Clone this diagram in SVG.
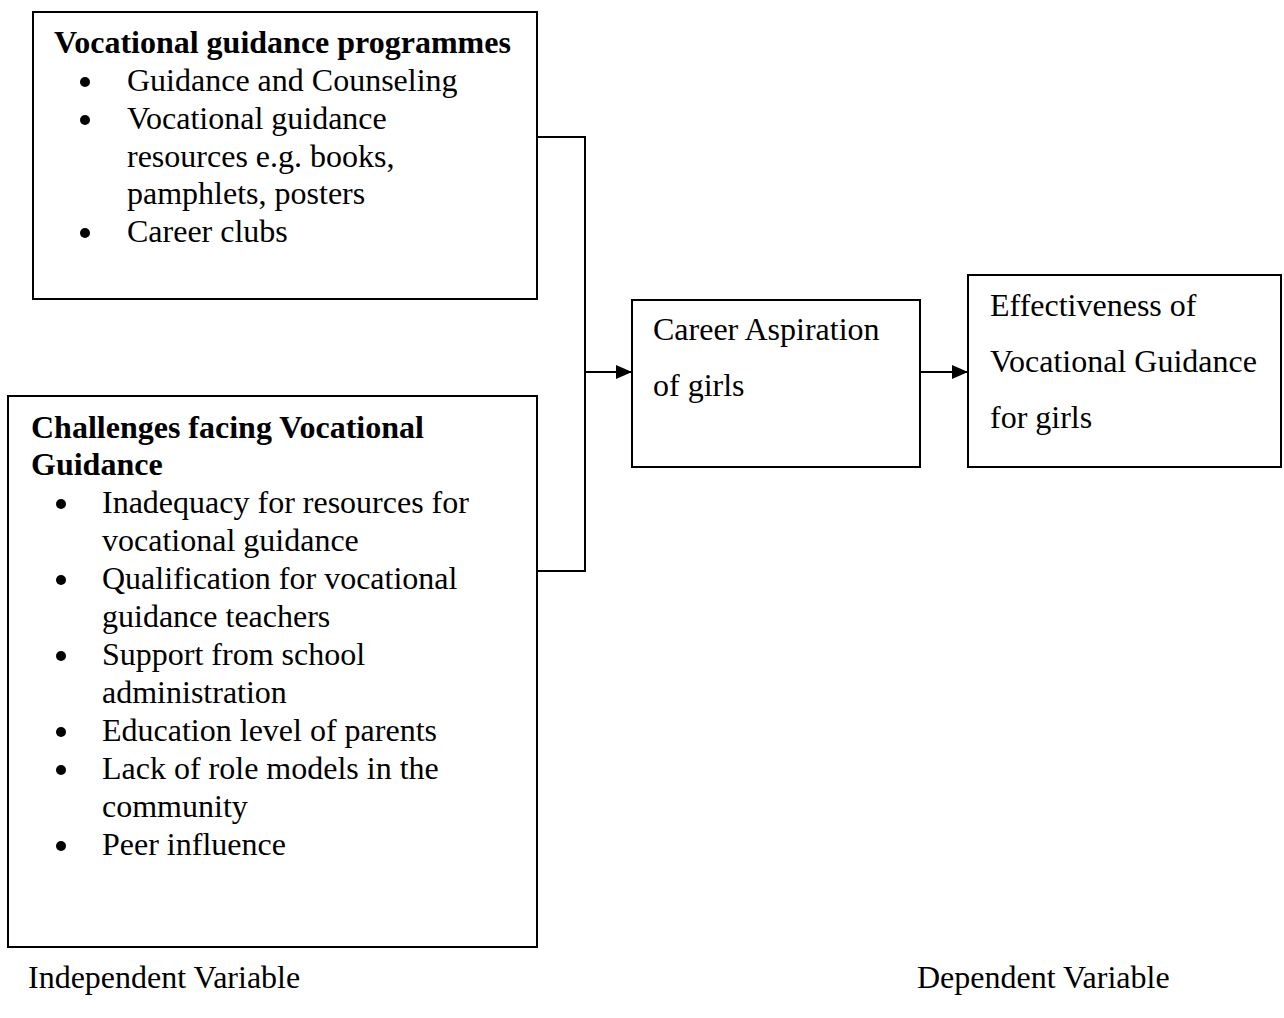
<svg xmlns="http://www.w3.org/2000/svg" width="1284" height="1018" viewBox="0 0 1284 1018">
<style>
.box{fill:#fff;stroke:#000;stroke-width:2}
.t{font-family:"Liberation Serif","Times New Roman",serif;font-size:32px;fill:#000}
.b{font-weight:bold}
.ln{fill:none;stroke:#000;stroke-width:2}
.dot{fill:#000}
</style>
<defs>
<marker id="ah" markerUnits="userSpaceOnUse" markerWidth="16" markerHeight="14" refX="16" refY="7" orient="auto">
<path d="M0,0 L16,7 L0,14 z" fill="#000"/>
</marker>
</defs>
<rect width="1284" height="1018" fill="#fff"/>
<g id="programmes">
<rect class="box" x="33" y="12" width="504" height="287"/>
<text class="t b" x="54" y="53">Vocational guidance programmes</text>
<circle class="dot" cx="85" cy="82" r="5"/>
<text class="t" x="127" y="91">Guidance and Counseling</text>
<circle class="dot" cx="85" cy="120" r="5"/>
<text class="t" x="127" y="129">Vocational guidance</text>
<text class="t" x="127" y="167">resources e.g. books,</text>
<text class="t" x="127" y="204">pamphlets, posters</text>
<circle class="dot" cx="85" cy="233" r="5"/>
<text class="t" x="127" y="242">Career clubs</text>
</g>
<g id="challenges">
<rect class="box" x="8" y="396" width="529" height="551"/>
<text class="t b" x="31" y="438">Challenges facing Vocational</text>
<text class="t b" x="31" y="475">Guidance</text>
<circle class="dot" cx="61" cy="504" r="5"/>
<text class="t" x="102" y="513">Inadequacy for resources for</text>
<text class="t" x="102" y="551">vocational guidance</text>
<circle class="dot" cx="61" cy="580" r="5"/>
<text class="t" x="102" y="589">Qualification for vocational</text>
<text class="t" x="102" y="627">guidance teachers</text>
<circle class="dot" cx="61" cy="656" r="5"/>
<text class="t" x="102" y="665">Support from school</text>
<text class="t" x="102" y="703">administration</text>
<circle class="dot" cx="61" cy="732" r="5"/>
<text class="t" x="102" y="741">Education level of parents</text>
<circle class="dot" cx="61" cy="770" r="5"/>
<text class="t" x="102" y="779">Lack of role models in the</text>
<text class="t" x="102" y="817">community</text>
<circle class="dot" cx="61" cy="846" r="5"/>
<text class="t" x="102" y="855">Peer influence</text>
</g>
<g id="career">
<rect class="box" x="632" y="300" width="288" height="167"/>
<text class="t" x="653" y="340">Career Aspiration</text>
<text class="t" x="653" y="396">of girls</text>
</g>
<g id="effectiveness">
<rect class="box" x="968" y="275" width="313" height="192"/>
<text class="t" x="990" y="316">Effectiveness of</text>
<text class="t" x="990" y="372">Vocational Guidance</text>
<text class="t" x="990" y="428">for girls</text>
</g>
<g id="labels">
<text class="t" x="28" y="988">Independent Variable</text>
<text class="t" x="917" y="988">Dependent Variable</text>
</g>
<g id="connectors">
<polyline class="ln" points="537,137 585,137 585,571 537,571"/>
<line class="ln" x1="585" y1="372" x2="632" y2="372" marker-end="url(#ah)"/>
<line class="ln" x1="920" y1="372" x2="968" y2="372" marker-end="url(#ah)"/>
</g>
</svg>
